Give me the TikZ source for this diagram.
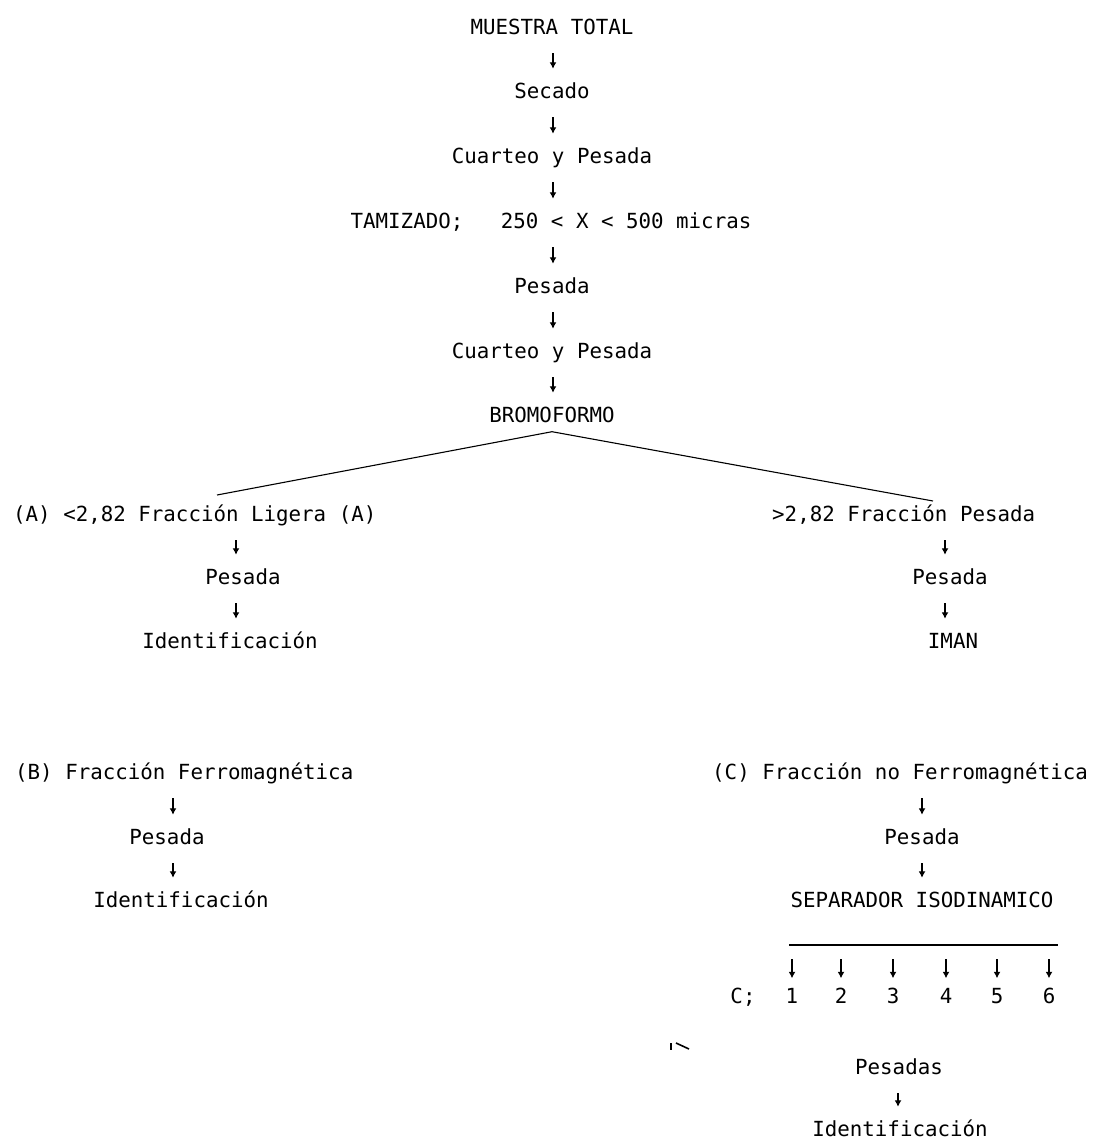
\documentclass[tikz,border=0pt]{standalone}
\usepackage{fontspec}
\setmonofont{DejaVu Sans Mono}
\usetikzlibrary{arrows.meta,calc}
\begin{document}
\begin{tikzpicture}[x=1pt,y=-1pt,
  txt/.style={font=\ttfamily\fontsize{20.8}{24}\selectfont, inner sep=0pt, text height=15pt, text depth=4pt},
  arr/.style={-{Latex[length=6.5pt,width=7pt]}, line width=1.5pt, shorten <=14.5pt, shorten >=14.5pt},
  split/.style={line width=1.1pt}]
\useasboundingbox (0,0) rectangle (1096,1140);
% main column
\node[txt] (m1) at (552,29) {MUESTRA TOTAL};
\node[txt] (m2) at (552,93) {Secado};
\node[txt] (m3) at (552,158) {Cuarteo y Pesada};
\node[txt] (m4) at (551,223) {TAMIZADO;\ \ \ 250 < X < 500 micras};
\node[txt] (m5) at (552,288) {Pesada};
\node[txt] (m6) at (552,353) {Cuarteo y Pesada};
\node[txt] (m7) at (552,417) {BROMOFORMO};
\foreach \a/\b in {m1/m2,m2/m3,m3/m4,m4/m5,m5/m6,m6/m7}
  \draw[arr] (\a.south -| 553,0) -- (\b.north -| 553,0);
% split
\coordinate (apex) at ($(m7.south)+(0,5)$);
\coordinate (la) at (217,495);
\coordinate (ra) at (933,501);
\draw[split] (la) -- (apex) -- (ra);
% branch A
\node[txt, anchor=west] (a1) at (13,516) {(A) <2,82 Fracción Ligera (A)};
\node[txt] (a2) at (243,579) {Pesada};
\node[txt] (a3) at (230,643) {Identificación};
\draw[arr] (a1.south -| 236,0) -- (a2.north -| 236,0);
\draw[arr] (a2.south -| 236,0) -- (a3.north -| 236,0);
% heavy fraction
\node[txt, anchor=west] (p1) at (772,516) {>2,82 Fracción Pesada};
\node[txt] (p2) at (950,579) {Pesada};
\node[txt] (p3) at (953,643) {IMAN};
\draw[arr] (p1.south -| 945,0) -- (p2.north -| 945,0);
\draw[arr] (p2.south -| 945,0) -- (p3.north -| 945,0);
% branch B
\node[txt, anchor=west] (b1) at (15,774) {(B) Fracción Ferromagnética};
\node[txt] (b2) at (167,839) {Pesada};
\node[txt] (b3) at (181,902) {Identificación};
\draw[arr] (b1.south -| 173,0) -- (b2.north -| 173,0);
\draw[arr] (b2.south -| 173,0) -- (b3.north -| 173,0);
% branch C
\node[txt, anchor=west] (c1) at (712,774) {(C) Fracción no Ferromagnética};
\node[txt] (c2) at (922,839) {Pesada};
\node[txt] (c3) at (922,902) {SEPARADOR ISODINAMICO};
\draw[arr] (c1.south -| 922,0) -- (c2.north -| 922,0);
\draw[arr] (c2.south -| 922,0) -- (c3.north -| 922,0);
\coordinate (sl) at (789,945);
\coordinate (sr) at (1058,945);
\draw[line width=1.8pt] (sl) -- (sr);
\node[txt] (cl) at (743,998) {C;};
\foreach \i/\x in {1/792,2/841,3/893,4/946,5/997,6/1049}{
  \node[txt] (n\i) at (\x,998) {\i};
  \draw[arr, shorten <=14pt, shorten >=10pt] (sl -| n\i) -- (n\i.north);
}
\draw[line width=1.5pt] (671,1043) -- (671,1050);
\draw[line width=1.6pt] (676,1043) -- (689,1049);
\node[txt] (d1) at (899,1069) {Pesadas};
\node[txt] (d2) at (900,1131) {Identificación};
\draw[arr] (d1.south -| 898,0) -- (d2.north -| 898,0);
\end{tikzpicture}
\end{document}
